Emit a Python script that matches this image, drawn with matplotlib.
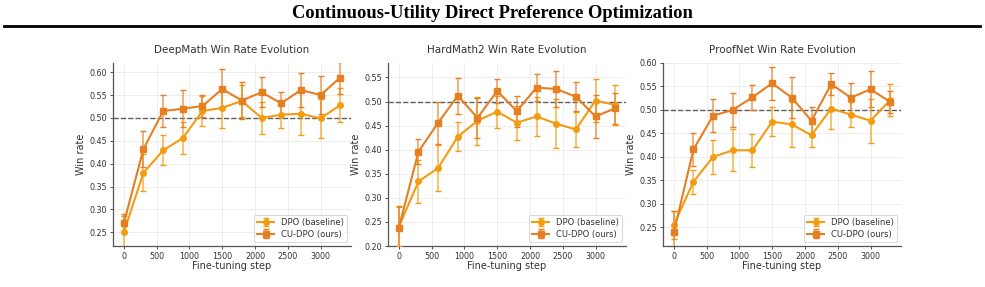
import numpy as np
import matplotlib
matplotlib.use("Agg")
from matplotlib import pyplot as plt
from matplotlib.lines import Line2D

steps = [0, 300, 600, 900, 1200, 1500, 1800, 2100, 2400, 2700, 3000, 3300]

datasets = ["DeepMath", "HardMath2", "ProofNet"]

deepmath_dpo = [0.250, 0.380, 0.429, 0.456, 0.515, 0.522, 0.537, 0.500, 0.507, 0.509, 0.499, 0.528]
deepmath_dpo_err = [0.035, 0.040, 0.033, 0.034, 0.032, 0.045, 0.035, 0.035, 0.028, 0.047, 0.043, 0.037]
deepmath_cu = [0.270, 0.432, 0.515, 0.520, 0.526, 0.563, 0.538, 0.556, 0.532, 0.561, 0.550, 0.588]
deepmath_cu_err = [0.020, 0.040, 0.034, 0.040, 0.025, 0.044, 0.040, 0.033, 0.024, 0.038, 0.042, 0.035]

hardmath_dpo = [0.240, 0.334, 0.362, 0.427, 0.460, 0.479, 0.456, 0.469, 0.454, 0.442, 0.502, 0.493]
hardmath_dpo_err = [0.040, 0.045, 0.047, 0.030, 0.050, 0.033, 0.035, 0.041, 0.051, 0.037, 0.044, 0.042]
hardmath_cu = [0.238, 0.396, 0.456, 0.512, 0.466, 0.522, 0.480, 0.529, 0.526, 0.510, 0.469, 0.486]
hardmath_cu_err = [0.045, 0.026, 0.044, 0.037, 0.041, 0.025, 0.032, 0.028, 0.037, 0.030, 0.044, 0.032]

proofnet_dpo = [0.255, 0.347, 0.400, 0.414, 0.414, 0.475, 0.469, 0.446, 0.503, 0.490, 0.477, 0.521]
proofnet_dpo_err = [0.030, 0.026, 0.036, 0.045, 0.035, 0.031, 0.048, 0.026, 0.043, 0.026, 0.047, 0.035]
proofnet_cu = [0.239, 0.416, 0.488, 0.500, 0.527, 0.557, 0.526, 0.477, 0.555, 0.526, 0.544, 0.517]
proofnet_cu_err = [0.045, 0.035, 0.035, 0.036, 0.027, 0.035, 0.044, 0.030, 0.024, 0.032, 0.038, 0.023]

series = [
    (deepmath_dpo, deepmath_dpo_err, deepmath_cu, deepmath_cu_err),
    (hardmath_dpo, hardmath_dpo_err, hardmath_cu, hardmath_cu_err),
    (proofnet_dpo, proofnet_dpo_err, proofnet_cu, proofnet_cu_err),
]
ylims = [(0.22, 0.62), (0.20, 0.58), (0.21, 0.60)]

DPO_COLOR = "#f39c12"
CU_COLOR = "#e67e22"
TEXT = "#333333"

fig = plt.figure(figsize=(9.85, 2.87), dpi=100)
fig.text(0.5, 0.952, "Continuous-Utility Direct Preference Optimization",
         ha="center", va="center", fontsize=13.3, fontweight="bold",
         family=["Liberation Serif", "DejaVu Serif"])
fig.add_artist(Line2D([4 / 985, 980 / 985], [1 - 25.5 / 287, 1 - 25.5 / 287],
                      color="black", linewidth=2))

lefts = [113, 388, 663]
for i, name in enumerate(datasets):
    ax = fig.add_axes([lefts[i] / 985, 41 / 287, 238 / 985, 183 / 287])
    dpo, dpo_err, cu, cu_err = series[i]
    ax.errorbar(steps, dpo, yerr=dpo_err, color=DPO_COLOR, marker="o", markersize=4,
                linewidth=1.5, capsize=2.5, elinewidth=1.2, ecolor=DPO_COLOR,
                label="DPO (baseline)", zorder=3)
    ax.errorbar(steps, cu, yerr=cu_err, color=CU_COLOR, marker="s", markersize=4.5,
                linewidth=1.5, capsize=2.5, elinewidth=1.2, ecolor=CU_COLOR,
                label="CU-DPO (ours)", zorder=3)
    for coll in ax.collections:
        coll.set_alpha(0.7)
    ax.axhline(0.5, color="#444444", linestyle="--", linewidth=1, alpha=0.85, zorder=2)
    ax.set_ylim(*ylims[i])
    ax.set_xticks([0, 500, 1000, 1500, 2000, 2500, 3000])
    ax.set_title(f"{name} Win Rate Evolution", fontsize=7.5, color=TEXT, pad=7)
    ax.set_xlabel("Fine-tuning step", fontsize=7, color=TEXT, labelpad=0)
    ax.set_ylabel("Win rate", fontsize=7, color=TEXT, labelpad=3)
    ax.tick_params(labelsize=5.8, colors=TEXT, length=2.5, width=0.6, pad=1.5)
    ax.grid(True, color="#ebebeb", linewidth=0.6)
    ax.set_axisbelow(True)
    for side in ["top", "right"]:
        ax.spines[side].set_visible(False)
    for side in ["left", "bottom"]:
        ax.spines[side].set_color("#555555")
        ax.spines[side].set_linewidth(0.9)
    leg = ax.legend(loc="lower right", fontsize=6, framealpha=0.9,
                    handlelength=2, borderpad=0.4, labelspacing=0.3)
    leg.get_frame().set_edgecolor("#cccccc")
    leg.get_frame().set_linewidth(0.6)
    for t in leg.get_texts():
        t.set_color(TEXT)

plt.savefig("out.png", dpi=100)
plt.close()
